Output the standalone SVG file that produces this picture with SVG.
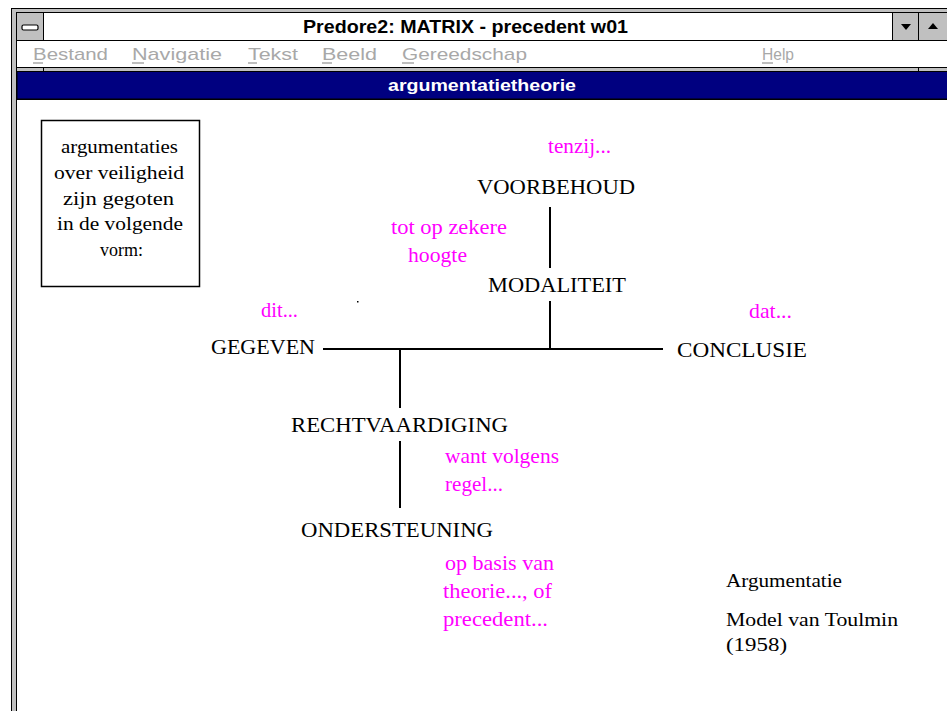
<svg xmlns="http://www.w3.org/2000/svg" width="947" height="711" viewBox="0 0 947 711">
<style>
.frame{fill:#c0c0c0;stroke:#000;stroke-width:1}
.ttl{font-family:'Liberation Sans',Arial,sans-serif;font-weight:bold;font-size:18px;fill:#000}
.menu{font-family:'Liberation Sans',Arial,sans-serif;font-size:17px;fill:#a8a8a8}
.bar{font-family:'Liberation Sans',Arial,sans-serif;font-weight:bold;font-size:16px;fill:#fff}
.t{font-family:'Liberation Serif','Times New Roman',serif;font-size:22px;fill:#000}
.p{font-family:'Liberation Serif','Times New Roman',serif;font-size:21px;fill:#ff00ff}
.b{font-family:'Liberation Serif','Times New Roman',serif;font-size:19px;fill:#000}
.ln{stroke:#000;stroke-width:2;fill:none}
</style>
<rect x="0" y="0" width="947" height="711" fill="#fff"/>
<g id="window">
<rect x="11.5" y="8.5" width="940" height="710" class="frame"/>
<rect x="16.5" y="12.5" width="935" height="700" fill="#fff" stroke="#000"/>
<rect x="16.5" y="12.5" width="27" height="28" fill="#c0c0c0" stroke="#000"/>
<rect x="22" y="25" width="16" height="5" rx="1.5" fill="#fff" stroke="#000" stroke-width="1.2"/>
<rect x="892.5" y="12.5" width="26" height="28" fill="#c0c0c0" stroke="#000"/>
<rect x="918.5" y="12.5" width="30" height="28" fill="#c0c0c0" stroke="#000"/>
<path d="M901 24 h10 l-5 6 z" fill="#000"/>
<path d="M928 29 h10 l-5 -6 z" fill="#000"/>
<line x1="16" y1="40.5" x2="947" y2="40.5" stroke="#000"/>
<text x="303" y="33" class="ttl" textLength="325" lengthAdjust="spacingAndGlyphs">Predore2: MATRIX - precedent w01</text>
<rect x="16.5" y="67.5" width="935" height="4" fill="#c0c0c0" stroke="#000"/>
<line x1="43.5" y1="67" x2="43.5" y2="72" stroke="#000"/>
<line x1="918.5" y1="67" x2="918.5" y2="72" stroke="#000"/>
<rect x="17" y="71.5" width="935" height="27.5" fill="#000080" stroke="#000"/>
<text x="388" y="91" class="bar" textLength="188" lengthAdjust="spacingAndGlyphs">argumentatietheorie</text>
<line x1="16" y1="99.5" x2="947" y2="99.5" stroke="#000"/>
<g class="menu">
<text x="33" y="60" textLength="75" lengthAdjust="spacingAndGlyphs">Bestand</text>
<text x="132" y="60" textLength="90" lengthAdjust="spacingAndGlyphs">Navigatie</text>
<text x="248" y="60" textLength="50" lengthAdjust="spacingAndGlyphs">Tekst</text>
<text x="322" y="60" textLength="55" lengthAdjust="spacingAndGlyphs">Beeld</text>
<text x="402" y="60" textLength="125" lengthAdjust="spacingAndGlyphs">Gereedschap</text>
<text x="762" y="60" textLength="32" lengthAdjust="spacingAndGlyphs">Help</text>
</g>
<g stroke="#a8a8a8" stroke-width="1.5">
<line x1="33" y1="63" x2="43" y2="63"/>
<line x1="132" y1="63" x2="144" y2="63"/>
<line x1="248" y1="63" x2="257" y2="63"/>
<line x1="322" y1="63" x2="332" y2="63"/>
<line x1="402" y1="63" x2="414" y2="63"/>
<line x1="762" y1="63" x2="773" y2="63"/>
</g>
</g>
<g id="intro">
<rect x="41.5" y="120.5" width="158" height="166" fill="none" stroke="#000" stroke-width="1.5"/>
<text x="61" y="153" class="b" textLength="117" lengthAdjust="spacingAndGlyphs">argumentaties</text>
<text x="54" y="179" class="b" textLength="130" lengthAdjust="spacingAndGlyphs">over veiligheid</text>
<text x="63" y="205" class="b" textLength="111" lengthAdjust="spacingAndGlyphs">zijn gegoten</text>
<text x="57" y="230" class="b" textLength="126" lengthAdjust="spacingAndGlyphs">in de volgende</text>
<text x="100" y="256" class="b" textLength="43" lengthAdjust="spacingAndGlyphs">vorm:</text>
</g>
<g id="connectors">
<line class="ln" x1="550" y1="207" x2="550" y2="268"/>
<line class="ln" x1="550" y1="301" x2="550" y2="349"/>
<line class="ln" x1="323" y1="349" x2="663" y2="349"/>
<line class="ln" x1="400" y1="349" x2="400" y2="408"/>
<line class="ln" x1="400" y1="441" x2="400" y2="508"/>
<rect x="357" y="301" width="1.5" height="1.5" fill="#000"/>
</g>
<g id="voorbehoud">
<text x="548" y="153" class="p" textLength="63" lengthAdjust="spacingAndGlyphs">tenzij...</text>
<text x="477" y="194" class="t" textLength="158" lengthAdjust="spacingAndGlyphs">VOORBEHOUD</text>
</g>
<g id="modaliteit">
<text x="391" y="234" class="p" textLength="116" lengthAdjust="spacingAndGlyphs">tot op zekere</text>
<text x="408" y="262" class="p" textLength="59" lengthAdjust="spacingAndGlyphs">hoogte</text>
<text x="488" y="292" class="t" textLength="138" lengthAdjust="spacingAndGlyphs">MODALITEIT</text>
</g>
<g id="gegeven">
<text x="261" y="317" class="p" textLength="37" lengthAdjust="spacingAndGlyphs">dit...</text>
<text x="211" y="354" class="t" textLength="104" lengthAdjust="spacingAndGlyphs">GEGEVEN</text>
</g>
<g id="conclusie">
<text x="749" y="318" class="p" textLength="43" lengthAdjust="spacingAndGlyphs">dat...</text>
<text x="677" y="357" class="t" textLength="130" lengthAdjust="spacingAndGlyphs">CONCLUSIE</text>
</g>
<g id="rechtvaardiging">
<text x="291" y="432" class="t" textLength="217" lengthAdjust="spacingAndGlyphs">RECHTVAARDIGING</text>
<text x="445" y="463" class="p" textLength="114" lengthAdjust="spacingAndGlyphs">want volgens</text>
<text x="445" y="491" class="p" textLength="58" lengthAdjust="spacingAndGlyphs">regel...</text>
</g>
<g id="ondersteuning">
<text x="301" y="537" class="t" textLength="192" lengthAdjust="spacingAndGlyphs">ONDERSTEUNING</text>
<text x="445" y="570" class="p" textLength="109" lengthAdjust="spacingAndGlyphs">op basis van</text>
<text x="443" y="598" class="p" textLength="109" lengthAdjust="spacingAndGlyphs">theorie..., of</text>
<text x="443" y="626" class="p" textLength="105" lengthAdjust="spacingAndGlyphs">precedent...</text>
</g>
<g id="caption">
<text x="726" y="587" class="b" textLength="116" lengthAdjust="spacingAndGlyphs">Argumentatie</text>
<text x="726" y="626" class="b" textLength="172" lengthAdjust="spacingAndGlyphs">Model van Toulmin</text>
<text x="726" y="651" class="b" textLength="61" lengthAdjust="spacingAndGlyphs">(1958)</text>
</g>
</svg>
